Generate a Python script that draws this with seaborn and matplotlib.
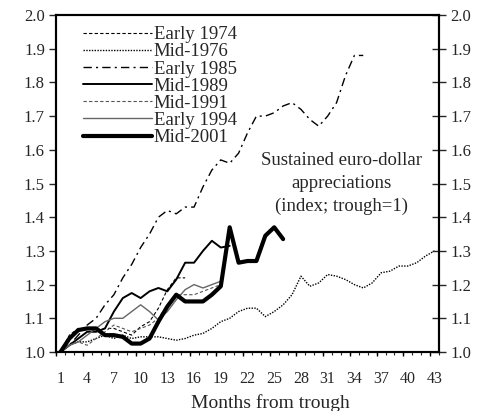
import numpy as np
import pandas as pd
import matplotlib
matplotlib.use("Agg")
import matplotlib.pyplot as plt
import seaborn as sns

# Indices des appréciations euro-dollar (creux = 1)
months = list(range(1, 44))
tick_months = list(range(1, 44, 3))

early_1974 = [1.00, 1.05, 1.07, 1.07, 1.06, 1.07, 1.07, 1.06, 1.05, 1.075,
              1.09, 1.13, 1.185, 1.22, 1.22]
mid_1976 = [1.00, 1.02, 1.03, 1.03, 1.04, 1.05, 1.04, 1.05, 1.04, 1.045,
            1.045, 1.045, 1.04, 1.035, 1.04, 1.05, 1.055, 1.07, 1.09, 1.10,
            1.12, 1.13, 1.13, 1.105, 1.12, 1.14, 1.17, 1.225, 1.195, 1.205,
            1.23, 1.225, 1.215, 1.20, 1.19, 1.205, 1.235, 1.24, 1.255, 1.255,
            1.265, 1.285, 1.30]
early_1985 = [1.00, 1.02, 1.05, 1.08, 1.10, 1.14, 1.17, 1.22, 1.26, 1.31,
              1.35, 1.40, 1.42, 1.41, 1.43, 1.43, 1.49, 1.54, 1.57, 1.56,
              1.59, 1.65, 1.70, 1.70, 1.71, 1.73, 1.74, 1.72, 1.69, 1.67,
              1.70, 1.74, 1.82, 1.88, 1.88]
mid_1989 = [1.00, 1.02, 1.04, 1.06, 1.06, 1.07, 1.12, 1.16, 1.175, 1.16,
            1.18, 1.19, 1.18, 1.215, 1.265, 1.265, 1.30, 1.33, 1.31, 1.315]
mid_1991 = [1.00, 1.02, 1.03, 1.02, 1.04, 1.06, 1.08, 1.07, 1.06, 1.07,
            1.08, 1.10, 1.14, 1.17, 1.17, 1.17, 1.18, 1.19, 1.20]
early_1994 = [1.00, 1.02, 1.03, 1.05, 1.07, 1.09, 1.10, 1.10, 1.12, 1.14,
              1.12, 1.095, 1.12, 1.155, 1.185, 1.20, 1.19, 1.20, 1.21]
mid_2001 = [1.00, 1.04, 1.065, 1.07, 1.07, 1.05, 1.05, 1.045, 1.025, 1.025,
            1.04, 1.09, 1.135, 1.17, 1.15, 1.15, 1.15, 1.17, 1.195, 1.37,
            1.265, 1.27, 1.27, 1.345, 1.37, 1.335]

series = [
    ("Early 1974", early_1974, dict(color="black", lw=0.8, ls=(0, (3, 2)))),
    ("Mid-1976", mid_1976, dict(color="black", lw=1.0, ls=(0, (1, 1)))),
    ("Early 1985", early_1985, dict(color="black", lw=1.0, ls=(0, (6, 3, 1.5, 3)))),
    ("Mid-1989", mid_1989, dict(color="black", lw=1.4)),
    ("Mid-1991", mid_1991, dict(color="#555555", lw=0.8, ls=(0, (3, 2)))),
    ("Early 1994", early_1994, dict(color="#666666", lw=1.0)),
    ("Mid-2001", mid_2001, dict(color="black", lw=3.0)),
]

sns.set_style("ticks")
plt.rcParams["font.family"] = ["Liberation Serif", "DejaVu Serif"]

fig = plt.figure(figsize=(4.86, 4.11), dpi=100)
ax = fig.add_axes([56 / 486, 1 - 352 / 411, 383 / 486, 337 / 411])

for label, vals, style in series:
    df = pd.DataFrame({"month": months[:len(vals)], "index": vals})
    sns.lineplot(data=df, x="month", y="index", ax=ax, label=label, **style)

ax.set_xlim(0.5, 43.5)
ax.set_ylim(1.0, 2.0)

# Axe des x : étiquettes au centre des catégories, graduations entre elles
ax.set_xticks(tick_months)
ax.set_xticklabels([str(m) for m in tick_months], fontsize=11.5)
ax.tick_params(axis="x", which="major", length=0, pad=14)
ax.set_xticks(np.arange(0.5, 44, 1), minor=True)
ax.tick_params(axis="x", which="minor", length=2, width=0.8, direction="out")
ax.vlines(np.arange(0.5, 44, 3), 0, -0.012, transform=ax.get_xaxis_transform(),
          color="black", lw=1.0, clip_on=False)

yticks = np.round(np.arange(1.0, 2.01, 0.1), 1)
ax.set_yticks(yticks)
ax.set_yticklabels([f"{v:.1f}" for v in yticks], fontsize=12)
ax.tick_params(axis="y", length=5, width=1.0, direction="out", pad=3)

ax2 = ax.twinx()
ax2.set_ylim(1.0, 2.0)
ax2.set_yticks(yticks)
ax2.set_yticklabels([f"{v:.1f}" for v in yticks], fontsize=12)
ax2.tick_params(axis="y", length=10, width=1.0, direction="inout", pad=3)

for a in (ax, ax2):
    for sp in a.spines.values():
        sp.set_visible(True)
        sp.set_linewidth(1.5)
        sp.set_color("black")

ax.set_xlabel("Months from trough", fontsize=14)
ax.xaxis.set_label_coords(0.561, -0.125)
ax.set_ylabel("")

ax.text(32.6, 1.50, "Sustained euro-dollar\nappreciations\n(index; trough=1)",
        ha="center", va="center", fontsize=13.5, linespacing=1.45)

leg = ax.legend(loc="upper left", bbox_to_anchor=(0.05, 0.989), frameon=False,
                fontsize=13.5, handlelength=3.7, handletextpad=0.1,
                labelspacing=0.0, borderaxespad=0)

fig.savefig("out.png", dpi=100)
